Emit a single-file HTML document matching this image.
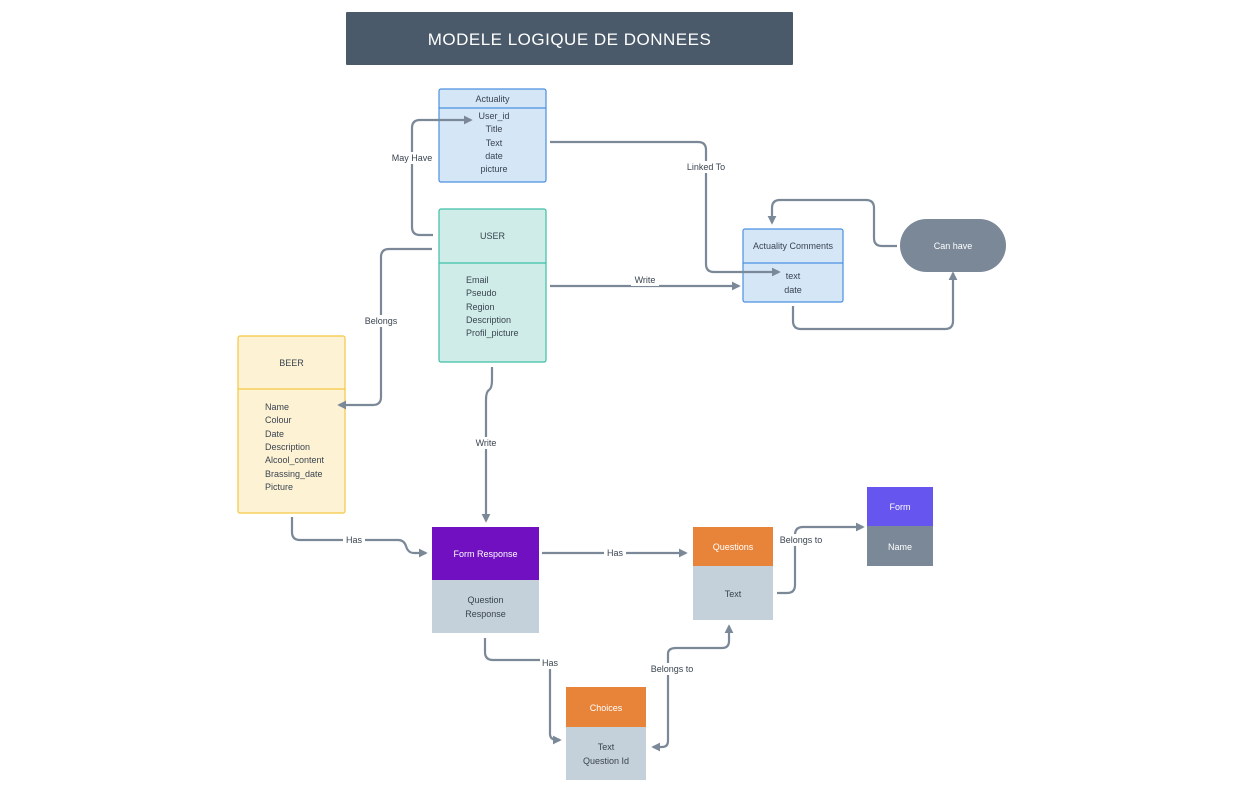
<!DOCTYPE html>
<html><head><meta charset="utf-8"><style>
html,body{margin:0;padding:0;background:#fff;}
svg{display:block;font-family:"Liberation Sans","DejaVu Sans",sans-serif;}
</style></head><body>
<svg width="1244" height="794" viewBox="0 0 1244 794" xmlns="http://www.w3.org/2000/svg">
<defs>
<marker id="a" viewBox="0 0 10 10" refX="8" refY="5" markerWidth="4" markerHeight="4" orient="auto"><path d="M0,0 L10,5 L0,10 z" fill="#7a8898"/></marker>
</defs>
<rect x="346" y="12" width="447" height="53" fill="#4a5a6a" rx="1"/>
<text x="569.5" y="45" text-anchor="middle" fill="#fff" font-size="17" letter-spacing="0.5">MODELE LOGIQUE DE DONNEES</text>

<g fill="none" stroke="#7a8898" stroke-width="2.2">
<path d="M550,286 H739" marker-end="url(#a)"/>
<path d="M897,246 H882 Q874,246 874,238 V208 Q874,200 866,200 H780 Q772,200 772,208 V223" marker-end="url(#a)"/>
<path d="M793,306 V321 Q793,329 801,329 H945 Q953,329 953,321 V273" marker-end="url(#a)"/>
<path d="M492,367 V380 Q492,388 489,390 Q486,392 486,400 V521" marker-end="url(#a)"/>
<path d="M292,517 V532 Q292,540 300,540 H398 Q404,540 406,546 Q408,553 414,553 H426" marker-end="url(#a)"/>
<path d="M542,553 H686" marker-end="url(#a)"/>
<path d="M777,593 H787 Q795,593 795,585 V535 Q795,527 803,527 H863" marker-end="url(#a)"/>
<path d="M485,638 V652 Q485,660 493,660 H542 Q550,660 550,668 V734 Q550,740 558,740 H560" marker-end="url(#a)"/>
<path d="M668,654 Q668,648 676,648 H722 Q729,648 729,641 V626" marker-end="url(#a)"/>
<path d="M668,654 V741 Q668,747 662,747 H653" marker-end="url(#a)"/>
</g>

<!-- Actuality -->
<rect x="439" y="89" width="107" height="93" fill="#d5e6f7" stroke="#4a90e2" stroke-width="1.2" rx="2"/>
<line x1="439" y1="108" x2="546" y2="108" stroke="#4a90e2" stroke-width="1.2"/>
<g font-size="9" fill="#3a4450" text-anchor="middle">
<text x="492.5" y="102">Actuality</text>
<text x="494" y="119">User_id</text><text x="494" y="132">Title</text><text x="494" y="146">Text</text><text x="494" y="159">date</text><text x="494" y="172">picture</text>
</g>
<!-- USER -->
<rect x="439" y="209" width="107" height="153" fill="#cfece8" stroke="#3dbfa6" stroke-width="1.2" rx="2"/>
<line x1="439" y1="263" x2="546" y2="263" stroke="#3dbfa6" stroke-width="1.2"/>
<g font-size="9" fill="#3a4450">
<text x="492.5" y="239" text-anchor="middle">USER</text>
<text x="466" y="283">Email</text><text x="466" y="296">Pseudo</text><text x="466" y="310">Region</text><text x="466" y="323">Description</text><text x="466" y="336">Profil_picture</text>
</g>
<!-- BEER -->
<rect x="238" y="336" width="107" height="177" fill="#fdf2d3" stroke="#f5c842" stroke-width="1.2" rx="2"/>
<line x1="238" y1="389" x2="345" y2="389" stroke="#f5c842" stroke-width="1.2"/>
<g font-size="9" fill="#3a4450">
<text x="291.5" y="366" text-anchor="middle">BEER</text>
<text x="265" y="410">Name</text><text x="265" y="423">Colour</text><text x="265" y="437">Date</text><text x="265" y="450">Description</text><text x="265" y="463">Alcool_content</text><text x="265" y="477">Brassing_date</text><text x="265" y="490">Picture</text>
</g>
<!-- Actuality Comments -->
<rect x="743" y="229" width="100" height="73" fill="#d5e6f7" stroke="#4a90e2" stroke-width="1.2" rx="2"/>
<line x1="743" y1="263" x2="843" y2="263" stroke="#4a90e2" stroke-width="1.2"/>
<g font-size="9" fill="#3a4450" text-anchor="middle">
<text x="793" y="249">Actuality Comments</text><text x="793" y="279">text</text><text x="793" y="293">date</text>
</g>
<!-- Can have -->
<rect x="900" y="219" width="106" height="53" rx="26.5" fill="#7a8898"/>
<text x="953" y="249" font-size="9" fill="#fff" text-anchor="middle">Can have</text>

<!-- connectors over boxes -->
<g fill="none" stroke="#7a8898" stroke-width="2.2">
<path d="M433,235 H420 Q412,235 412,227 V128 Q412,120 420,120 H471" marker-end="url(#a)"/>
<path d="M432,249 H389 Q381,249 381,257 V397 Q381,405 373,405 H339" marker-end="url(#a)"/>
<path d="M550,142 H698 Q706,142 706,150 V264 Q706,272 714,272 H779" marker-end="url(#a)"/>
</g>

<g font-size="9" fill="#3a4450" text-anchor="middle">
<rect x="390" y="152" width="44" height="12" fill="#fff"/><text x="412" y="161">May Have</text>
<rect x="362" y="315" width="38" height="12" fill="#fff"/><text x="381" y="324">Belongs</text>
<rect x="684" y="161" width="44" height="12" fill="#fff"/><text x="706" y="170">Linked To</text>
<rect x="631" y="274" width="28" height="12" fill="#fff"/><text x="645" y="283">Write</text>
<rect x="472" y="437" width="28" height="12" fill="#fff"/><text x="486" y="446">Write</text>
<rect x="343" y="534" width="22" height="12" fill="#fff"/><text x="354" y="543">Has</text>
<rect x="604" y="547" width="22" height="12" fill="#fff"/><text x="615" y="556">Has</text>
<rect x="777" y="534" width="48" height="12" fill="#fff"/><text x="801" y="543">Belongs to</text>
<rect x="540" y="657" width="22" height="12" fill="#fff"/><text x="550" y="666">Has</text>
<rect x="648" y="663" width="48" height="12" fill="#fff"/><text x="672" y="672">Belongs to</text>
</g>

<!-- Form Response -->
<rect x="432" y="527" width="107" height="53" fill="#7010c0"/>
<rect x="432" y="580" width="107" height="53" fill="#c4d0da"/>
<g font-size="9" text-anchor="middle">
<text x="485.5" y="557" fill="#fff">Form Response</text>
<text x="485.5" y="603" fill="#3a4450">Question</text><text x="485.5" y="617" fill="#3a4450">Response</text>
</g>
<!-- Questions -->
<rect x="693" y="527" width="80" height="39" fill="#e8843a"/>
<rect x="693" y="566" width="80" height="54" fill="#c4d0da"/>
<g font-size="9" text-anchor="middle">
<text x="733" y="550" fill="#fff">Questions</text><text x="733" y="597" fill="#3a4450">Text</text>
</g>
<!-- Form -->
<rect x="867" y="487" width="66" height="39" fill="#6655ee"/>
<rect x="867" y="526" width="66" height="40" fill="#7a8898"/>
<g font-size="9" text-anchor="middle" fill="#fff">
<text x="900" y="510">Form</text><text x="900" y="550">Name</text>
</g>
<!-- Choices -->
<rect x="566" y="687" width="80" height="40" fill="#e8843a"/>
<rect x="566" y="727" width="80" height="53" fill="#c4d0da"/>
<g font-size="9" text-anchor="middle">
<text x="606" y="711" fill="#fff">Choices</text>
<text x="606" y="750" fill="#3a4450">Text</text><text x="606" y="764" fill="#3a4450">Question Id</text>
</g>
</svg>
</body></html>
